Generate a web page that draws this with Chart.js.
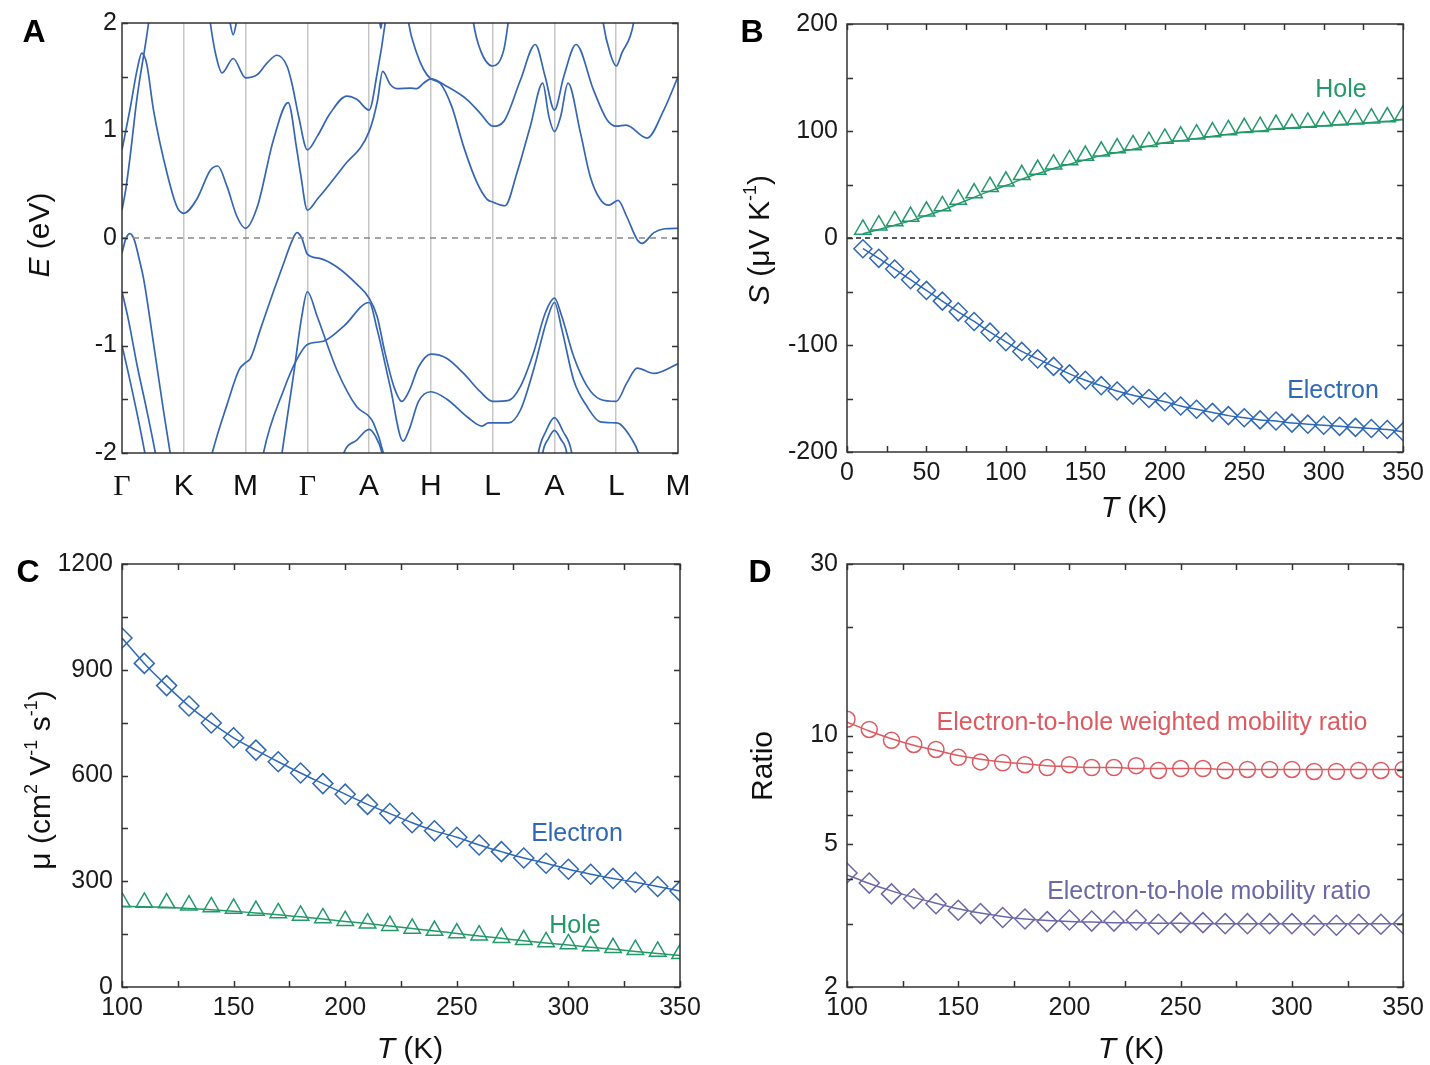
<!DOCTYPE html>
<html>
<head>
<meta charset="utf-8">
<title>Band structure and transport</title>
<script src="https://cdn.jsdelivr.net/npm/chart.js@4.4.1/dist/chart.umd.min.js"></script>
<style>
  body { margin: 0; background: #fff; }
  #page { position: relative; width: 1430px; height: 1065px; overflow: hidden;
          font-family: 'Liberation Sans', Arial, sans-serif; color: #111; }
  canvas { position: absolute; }
  .t { position: absolute; line-height: 1; white-space: nowrap; transform: translate(-50%, -50%); }
  .rot { transform: translate(-50%, -50%) rotate(-90deg); }
  .panel { font-weight: bold; font-size: 32px; color: #000; }
  .title { font-size: 30px; }
  .note { font-size: 25px; }
  sup { font-size: 0.6em; vertical-align: 0.75em; line-height: 0; }
</style>
</head>
<body>
<div id="page">
  <canvas id="chartA" width="720" height="520" style="left:0;top:0"></canvas>
  <canvas id="chartB" width="710" height="520" style="left:720px;top:0"></canvas>
  <canvas id="chartC" width="720" height="525" style="left:0;top:540px"></canvas>
  <canvas id="chartD" width="710" height="525" style="left:720px;top:540px"></canvas>

  <div class="t panel" style="left:34px;top:31px">A</div>
  <div class="t panel" style="left:752px;top:31px">B</div>
  <div class="t panel" style="left:28px;top:571px">C</div>
  <div class="t panel" style="left:760px;top:571px">D</div>

  <div class="t title rot" style="left:39px;top:235px"><i>E</i> (eV)</div>
  <div class="t title rot" style="left:759px;top:240px"><i>S</i> (μV K<sup>-1</sup>)</div>
  <div class="t title rot" style="left:40px;top:780px">μ (cm<sup>2</sup> V<sup>-1</sup> s<sup>-1</sup>)</div>
  <div class="t title rot" style="left:762px;top:766px">Ratio</div>
  <div class="t title" style="left:1134px;top:507px"><i>T</i> (K)</div>
  <div class="t title" style="left:410px;top:1048px"><i>T</i> (K)</div>
  <div class="t title" style="left:1131px;top:1048px"><i>T</i> (K)</div>

  <div class="t note" style="left:1341px;top:88px;color:#23996a">Hole</div>
  <div class="t note" style="left:1333px;top:389px;color:#2f68b5">Electron</div>
  <div class="t note" style="left:577px;top:832px;color:#2f68b5">Electron</div>
  <div class="t note" style="left:575px;top:924px;color:#23996a">Hole</div>
  <div class="t note" style="left:1152px;top:721px;color:#dd5a60">Electron-to-hole weighted mobility ratio</div>
  <div class="t note" style="left:1209px;top:890px;color:#6b68a8">Electron-to-hole mobility ratio</div>
</div>

<script>
const SANS = "'Liberation Sans', Arial, sans-serif";
Chart.defaults.font.family = SANS;

// ---- panel A: band structure along the k-path (x = index of high-symmetry point) ----
const kLabels = ['Γ', 'K', 'M', 'Γ', 'A', 'H', 'L', 'A', 'L', 'M'];
const zeroA = [[0, 0], [9, 0]];

const cBand1 = [[0,0.82],[0.13,1.2],[0.25,1.58],[0.32,1.72],[0.4,1.62],[0.51,1.19],[0.73,0.6],[0.89,0.29],[1,0.23],
  [1.21,0.36],[1.43,0.63],[1.55,0.67],[1.7,0.48],[1.86,0.2],[2,0.09],[2.19,0.29],[2.45,0.91],[2.69,1.26],[2.83,0.82],
  [2.89,0.6],[3,0.26],[3.16,0.36],[3.59,0.67],[4,0.99],[4.13,1.26],[4.22,1.55],[4.34,1.43],[4.45,1.39],[4.67,1.395],
  [4.77,1.39],[4.88,1.44],[5,1.48],[5.26,1.41],[5.58,1.29],[5.8,1.16],[6,1.04],[6.18,1.085],[6.45,1.47],[6.69,1.8],
  [6.85,1.5],[7,1.19],[7.15,1.5],[7.35,1.8],[7.63,1.38],[7.85,1.1],[8,1.04],[8.16,1.05],[8.5,0.93],[8.77,1.19],[9,1.5]];
const cBand2 = [[0,0.26],[0.06,0.45],[0.13,0.75],[0.24,1.29],[0.43,2.0],[0.46,2.15]];
const cBand3 = [[1.4,2.15],[1.43,2.0],[1.52,1.7],[1.62,1.535],[1.8,1.67],[2,1.49],[2.19,1.52],[2.35,1.63],[2.51,1.7],
  [2.67,1.6],[2.75,1.44],[2.86,1.13],[3,0.82],[3.16,0.945],[3.37,1.16],[3.64,1.32],[3.8,1.29],[4,1.19],[4.13,1.53],
  [4.26,2.0],[4.29,2.15]];
const cBand4 = [[1.72,2.1],[1.75,2.0],[1.8,1.89],[1.85,2.0],[1.88,2.1]];
const cBand5 = [[4.16,2.08],[4.19,1.95],[4.22,2.08]];
const cBand6 = [[4.61,2.15],[4.64,2.0],[4.77,1.72],[4.88,1.57],[5,1.48],[5.15,1.44],[5.34,1.22],[5.53,0.85],[5.75,0.51],
  [5.91,0.36],[6,0.335],[6.2,0.3],[6.39,0.6],[6.61,1.04],[6.81,1.44],[6.91,1.13],[7,0.99],[7.1,1.13],[7.22,1.44],
  [7.42,0.98],[7.58,0.57],[7.74,0.36],[7.88,0.305],[8.03,0.35],[8.17,0.2],[8.34,-0.016],[8.42,-0.05],[8.61,0.05],
  [8.79,0.086],[9,0.09]];
const cBand7 = [[5.66,2.15],[5.69,2.0],[5.8,1.75],[6,1.6],[6.18,1.75],[6.25,2.0],[6.28,2.15]];
const cBand8 = [[7.76,2.15],[7.79,2.0],[7.9,1.72],[8,1.6],[8.09,1.72],[8.28,2.0],[8.31,2.15]];

const vBand1 = [[0,-0.14],[0.06,-0.01],[0.13,0.04],[0.2,-0.02],[0.28,-0.2],[0.35,-0.38],[0.51,-0.98],[0.67,-1.6],
  [0.78,-2.0],[0.82,-2.15]];
const vBand2 = [[0,-0.5],[0.1,-0.75],[0.25,-1.2],[0.4,-1.6],[0.54,-2.0],[0.57,-2.1]];
const vBand3 = [[0,-1.0],[0.1,-1.25],[0.25,-1.65],[0.37,-2.0],[0.4,-2.1]];
const vBand4 = [[1.42,-2.1],[1.46,-2.0],[1.7,-1.55],[1.9,-1.22],[2,-1.16],[2.08,-1.12],[2.24,-0.85],[2.45,-0.5],
  [2.62,-0.23],[2.75,-0.03],[2.83,0.05],[2.91,0.0],[3,-0.15],[3.2,-0.19],[3.48,-0.27],[3.8,-0.43],[4,-0.56],
  [4.13,-0.73],[4.25,-1.05],[4.4,-1.38],[4.53,-1.52],[4.65,-1.42],[4.8,-1.2],[5,-1.08],[5.26,-1.12],[5.53,-1.26],
  [5.8,-1.43],[6,-1.52],[6.26,-1.51],[6.45,-1.38],[6.66,-1.07],[6.85,-0.7],[7,-0.56],[7.12,-0.73],[7.31,-1.1],
  [7.53,-1.38],[7.74,-1.5],[8,-1.52],[8.17,-1.35],[8.34,-1.21],[8.61,-1.26],[9,-1.17]];
const vBand5 = [[2.55,-2.15],[2.59,-2.0],[2.78,-1.26],[2.91,-0.73],[3,-0.5],[3.16,-0.73],[3.48,-1.23],[3.8,-1.57],
  [4,-1.66],[4.07,-1.72],[4.23,-2.0],[4.26,-2.1]];
const vBand6 = [[2.25,-2.15],[2.29,-2.0],[2.62,-1.41],[2.83,-1.13],[3,-0.99],[3.26,-0.96],[3.59,-0.82],[4,-0.6],
  [4.13,-0.85],[4.34,-1.38],[4.55,-1.89],[4.65,-1.78],[4.8,-1.52],[5,-1.43],[5.26,-1.5],[5.58,-1.66],[5.83,-1.75],
  [5.93,-1.72],[6,-1.72],[6.26,-1.72],[6.45,-1.6],[6.66,-1.23],[6.88,-0.76],[7,-0.6],[7.12,-0.85],[7.31,-1.32],
  [7.53,-1.57],[7.74,-1.71],[8,-1.72],[8.06,-1.73],[8.23,-1.85],[8.36,-2.0],[8.4,-2.1]];
const vBand7 = [[3.55,-2.1],[3.59,-2.0],[3.8,-1.88],[4,-1.78],[4.1,-1.84],[4.21,-2.0],[4.24,-2.1]];
const vBand8 = [[6.72,-2.1],[6.74,-2.0],[6.86,-1.8],[7,-1.67],[7.14,-1.8],[7.28,-2.0],[7.3,-2.1]];
const vBand9 = [[6.79,-2.1],[6.81,-2.0],[6.9,-1.87],[7,-1.79],[7.1,-1.87],[7.2,-2.0],[7.22,-2.1]];

const bands = [cBand1, cBand2, cBand3, cBand4, cBand5, cBand6, cBand7, cBand8,
               vBand1, vBand2, vBand3, vBand4, vBand5, vBand6, vBand7, vBand8, vBand9];

// ---- panel B: Seebeck coefficient ----
const tempB = [10,20,30,40,50,60,70,80,90,100,110,120,130,140,150,160,170,180,190,200,
               210,220,230,240,250,260,270,280,290,300,310,320,330,340,350];
const holeS = [8,12,16,20,25,30,36,42,48,53,59,64,69,73,77,81,84,87,90,93,
               95,97,99,101,103,104,106,107,108,109,110,111,112,113,115];
const holeSFit = [4,8,12,16,21,26,32,38,44,49,55,60,65,69,73,77,80,83,86,89,
                  91,93,95,97,99,100,102,103,104,105,106,107,108,109,111];
const elecS = [-10,-19,-29,-39,-49,-59,-69,-78,-88,-97,-106,-113,-120,-127,-133,-138,-143,-147,-150,-153,
               -157,-160,-163,-166,-168,-170,-171,-173,-174,-175,-176,-177,-178,-179,-181];
const zeroB = [[0, 0], [350, 0]];

// ---- panel C: mobility ----
const tempC = [100,110,120,130,140,150,160,170,180,190,200,210,220,230,240,250,260,270,280,290,300,310,320,330,340,350];
const elecMu = [990,918,855,797,749,707,672,639,607,577,547,518,492,466,443,425,403,384,366,351,334,320,308,297,285,272];
const holeMu = [241,240,238,232,227,223,217,210,203,196,188,181,174,166,160,153,147,140,134,128,122,116,111,106,101,94];
const holeMuFit = [229,228,226,223,219,215,210,205,199,193,186,180,173,166,159,152,145,138,131,125,119,113,107,101,95,89];

// ---- panel D: ratios (log axis) ----
const tempD = tempC;
const weightedRatio = [11.1,10.4,9.7,9.45,9.15,8.7,8.45,8.4,8.3,8.15,8.3,8.15,8.15,8.25,8.0,8.1,8.1,8.0,8.05,8.05,8.05,7.95,7.95,8.0,8.0,8.05];
const weightedFit = [10.9,10.3,9.8,9.4,9.1,8.8,8.6,8.45,8.35,8.25,8.2,8.15,8.15,8.1,8.1,8.1,8.1,8.05,8.05,8.05,8.05,8.05,8.05,8.05,8.05,8.05];
const mobilityRatio = [4.15,3.89,3.63,3.52,3.41,3.27,3.2,3.12,3.09,3.04,3.07,3.05,3.05,3.07,2.99,3.02,3.02,3.0,3.0,3.0,3.0,2.97,2.97,2.99,2.99,3.0];
const mobilityFit = [4.1,3.88,3.7,3.55,3.42,3.3,3.21,3.14,3.09,3.06,3.04,3.03,3.02,3.02,3.01,3.01,3.0,3.0,3.0,3.0,3.0,3.0,3.0,3.0,3.0,3.0];
const ratioTicks = [2,3,4,5,6,7,8,9,10,20,30];
const ratioLabels = [2,5,10,30];

const BLUE = '#3566b3', ELEC = '#2f68b5', HOLE = '#23996a', RED = '#dd5a60', PURPLE = '#6b68a8';

// frame on all four sides plus inward tick marks
const frame = {
  id: 'frame',
  afterDatasetsDraw(chart, args, o) {
    const { ctx, chartArea: a, scales } = chart;
    const len = 6;
    ctx.save();
    ctx.strokeStyle = '#333';
    ctx.lineWidth = 1.5;
    ctx.beginPath();
    if (o.xTicks) {
      scales.x.ticks.forEach(t => {
        const p = Math.round(scales.x.getPixelForValue(t.value)) + 0.5;
        ctx.moveTo(p, a.bottom); ctx.lineTo(p, a.bottom - len);
        ctx.moveTo(p, a.top); ctx.lineTo(p, a.top + len);
      });
    }
    scales.y.ticks.forEach(t => {
      const p = Math.round(scales.y.getPixelForValue(t.value)) + 0.5;
      ctx.moveTo(a.left, p); ctx.lineTo(a.left + len, p);
      ctx.moveTo(a.right, p); ctx.lineTo(a.right - len, p);
    });
    ctx.stroke();
    ctx.strokeRect(a.left, a.top, a.right - a.left, a.bottom - a.top);
    ctx.restore();
  }
};

const pts = arr => arr.map(([x, y]) => ({ x, y }));
const xy = (xs, ys) => xs.map((x, i) => ({ x, y: ys[i] }));

function tickFont(size) { return { family: SANS, size: size }; }

function lineSet(data, color, width, extra) {
  return Object.assign({ data, showLine: true, pointRadius: 0, borderColor: color, borderWidth: width,
    cubicInterpolationMode: 'monotone', capBezierPoints: false }, extra || {});
}
function markSet(data, color, style, r) {
  return { data, showLine: false, pointStyle: style, pointRadius: r, pointBorderColor: color,
    pointBackgroundColor: 'rgba(0,0,0,0)', pointBorderWidth: 1.5 };
}

function baseOptions(pad, frameOpts, scales) {
  return {
    responsive: false, animation: false, devicePixelRatio: 1, events: [],
    layout: { padding: pad },
    plugins: { legend: { display: false }, tooltip: { enabled: false }, frame: frameOpts },
    scales
  };
}

function linAxis(min, max, step, every, width, height, pad) {
  return {
    type: 'linear', min, max,
    grid: { display: false, drawTicks: false }, border: { display: false },
    ticks: { stepSize: step, autoSkip: false, maxRotation: 0, padding: pad, color: '#1a1a1a', font: tickFont(25),
      callback: v => (Math.abs(v % every) < 1e-9 ? String(v) : '') },
    afterFit: s => { if (width) s.width = width; if (height) s.height = height; }
  };
}

// ---- chart A ----
new Chart(document.getElementById('chartA'), {
  type: 'scatter',
  plugins: [frame],
  data: {
    datasets: [lineSet(pts(zeroA), '#888', 1.5, { borderDash: [6, 5], cubicInterpolationMode: 'default' })]
      .concat(bands.map(b => lineSet(pts(b), BLUE, 1.7)))
  },
  options: baseOptions({ top: 23, right: 42, left: 0, bottom: 0 }, { xTicks: false }, {
    x: {
      type: 'linear', min: 0, max: 9,
      afterBuildTicks: s => { s.ticks = kLabels.map((_, i) => ({ value: i })); },
      grid: { drawTicks: false, lineWidth: 1.5,
        color: c => (c.tick && c.tick.value > 0 && c.tick.value < 9) ? '#c6c6c6' : 'rgba(0,0,0,0)' },
      border: { display: false },
      ticks: { autoSkip: false, maxRotation: 0, padding: 16, color: '#111',
        callback: v => kLabels[v] ?? '',
        font: c => ({ family: (c.tick && kLabels[c.tick.value] === 'Γ') ? "'Liberation Serif', 'Times New Roman', serif" : SANS, size: 30 }) },
      afterFit: s => { s.height = 67; }
    },
    y: linAxis(-2, 2, 0.5, 1, 122, 0, 5)
  })
});

// ---- chart B ----
new Chart(document.getElementById('chartB'), {
  type: 'scatter',
  plugins: [frame],
  data: {
    datasets: [
      lineSet(pts(zeroB), '#222', 1.3, { borderDash: [5, 4], cubicInterpolationMode: 'default' }),
      lineSet(xy(tempB, holeSFit), HOLE, 1.5),
      markSet(xy(tempB, holeS), HOLE, 'triangle', 9.5),
      lineSet(xy(tempB, elecS), ELEC, 1.5),
      markSet(xy(tempB, elecS), ELEC, 'rectRot', 9)
    ]
  },
  options: baseOptions({ top: 24, right: 25, left: 0, bottom: 0 }, { xTicks: true }, {
    x: linAxis(0, 350, 25, 50, 0, 68, 6),
    y: linAxis(-200, 200, 50, 100, 127, 0, 9)
  })
});

// ---- chart C ----
new Chart(document.getElementById('chartC'), {
  type: 'scatter',
  plugins: [frame],
  data: {
    datasets: [
      lineSet(xy(tempC, elecMu), ELEC, 1.5),
      markSet(xy(tempC, elecMu), ELEC, 'rectRot', 10),
      lineSet(xy(tempC, holeMuFit), HOLE, 1.5),
      markSet(xy(tempC, holeMu), HOLE, 'triangle', 9.5)
    ]
  },
  options: baseOptions({ top: 20, right: 40, left: 0, bottom: 0 }, { xTicks: true }, {
    x: linAxis(100, 350, 25, 50, 0, 78, 6),
    y: linAxis(0, 1200, 150, 300, 122, 0, 9)
  })
});

// ---- chart D ----
new Chart(document.getElementById('chartD'), {
  type: 'scatter',
  plugins: [frame],
  data: {
    datasets: [
      lineSet(xy(tempD, weightedFit), RED, 1.5),
      markSet(xy(tempD, weightedRatio), RED, 'circle', 8),
      lineSet(xy(tempD, mobilityFit), PURPLE, 1.5),
      markSet(xy(tempD, mobilityRatio), PURPLE, 'rectRot', 10)
    ]
  },
  options: baseOptions({ top: 19, right: 25, left: 0, bottom: 0 }, { xTicks: true }, {
    x: linAxis(100, 350, 25, 50, 0, 78, 6),
    y: {
      type: 'logarithmic', min: 2, max: 30,
      afterBuildTicks: s => { s.ticks = ratioTicks.map(v => ({ value: v })); },
      grid: { display: false, drawTicks: false }, border: { display: false },
      ticks: { autoSkip: false, padding: 9, color: '#1a1a1a', font: tickFont(25),
        callback: v => (ratioLabels.includes(v) ? String(v) : '') },
      afterFit: s => { s.width = 127; }
    }
  })
});
</script>
</body>
</html>
